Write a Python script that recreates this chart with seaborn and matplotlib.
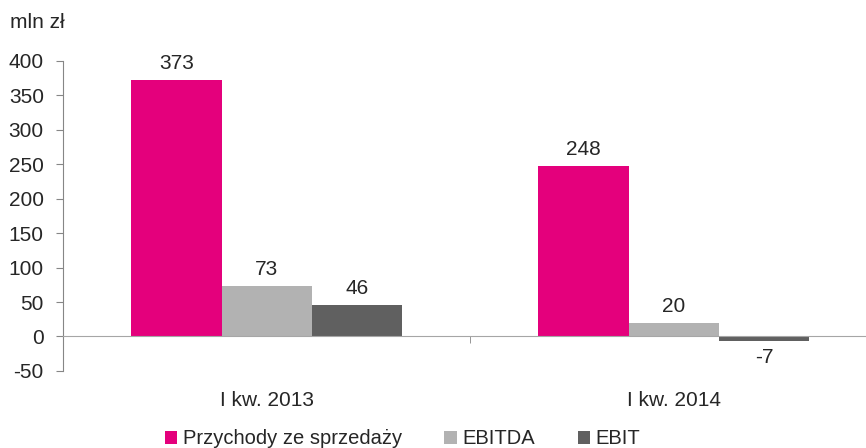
import matplotlib
matplotlib.use("Agg")
import matplotlib.pyplot as plt
import seaborn as sns
import pandas as pd

okresy = ["I kw. 2013", "I kw. 2014"]
serie = ["Przychody ze sprzedaży", "EBITDA", "EBIT"]
przychody = [373, 248]
ebitda = [73, 20]
ebit = [46, -7]
kolory = ["#E4007C", "#B2B2B2", "#606060"]

df = pd.DataFrame({
    "okres": okresy * 3,
    "seria": [serie[0]] * 2 + [serie[1]] * 2 + [serie[2]] * 2,
    "wartosc": przychody + ebitda + ebit,
})

sns.set_style("white")
plt.rcParams["font.family"] = ["Liberation Sans", "DejaVu Sans"]
plt.rcParams["font.size"] = 15
plt.rcParams["axes.unicode_minus"] = False

fig = plt.figure(figsize=(8.66, 4.48), dpi=100)
ax = fig.add_axes([0.073, 0.172, 0.94, 0.692])

sns.barplot(data=df, x="okres", y="wartosc", hue="seria", palette=kolory,
            width=0.665, saturation=1, linewidth=0, ax=ax, legend=True)

for cont in ax.containers:
    labels = [f"{v:.0f}" for v in cont.datavalues]
    ax.bar_label(cont, labels=labels, padding=5, fontsize=15)

ax.set_ylim(-50, 400)
ax.set_xlim(-0.5, 1.5)
ax.set_yticks(range(-50, 401, 50))
ax.set_yticklabels([str(v) for v in range(-50, 401, 50)])
ax.set_xlabel("")
ax.set_ylabel("")

for s in ["top", "right"]:
    ax.spines[s].set_visible(False)
ax.spines["left"].set_color("#868686")
ax.spines["bottom"].set_color("#A6A6A6")
ax.spines["bottom"].set_position(("data", 0))

ax.tick_params(axis="y", length=5, color="#868686", left=True, labelsize=15, pad=9)
ax.set_xticks([0.5], minor=True)
ax.tick_params(axis="x", which="minor", length=5, color="#868686", bottom=True)
ax.tick_params(axis="x", which="major", length=0, pad=39, labelsize=15)

ax.legend(loc="upper center", bbox_to_anchor=(0.417, -0.13), ncol=3, frameon=False,
          handlelength=0.6, handleheight=0.6, handletextpad=0.3, columnspacing=2.1,
          fontsize=14.5)

fig.text(0.012, 0.95, "mln zł", fontsize=15, va="center")

fig.savefig("out.png", dpi=100)
